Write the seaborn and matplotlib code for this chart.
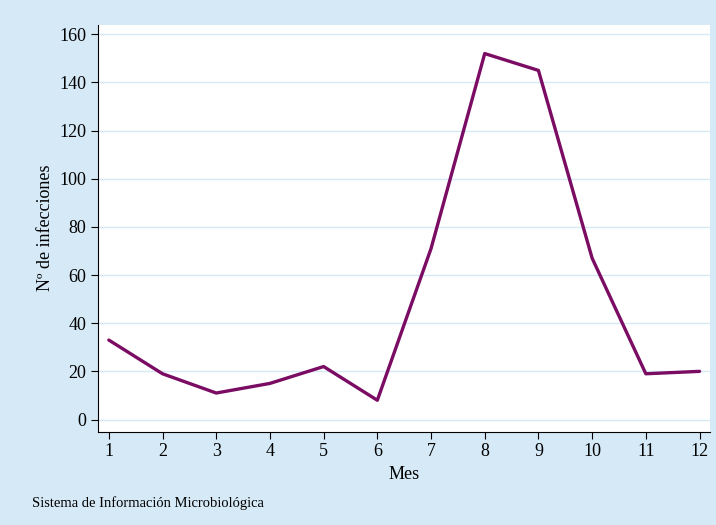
import matplotlib
matplotlib.use("Agg")
import matplotlib.pyplot as plt
import seaborn as sns
import pandas as pd

meses = [1, 2, 3, 4, 5, 6, 7, 8, 9, 10, 11, 12]
infecciones = [33, 19, 11, 15, 22, 8, 71, 152, 145, 67, 19, 20]

sns.set_style("white")
plt.rcParams['font.family'] = ['Liberation Serif', 'DejaVu Serif']
plt.rcParams['text.color'] = 'black'
plt.rcParams['axes.labelcolor'] = 'black'
plt.rcParams['xtick.color'] = 'black'
plt.rcParams['ytick.color'] = 'black'

df = pd.DataFrame({"Mes": meses, "Nº de infecciones": infecciones})

fig = plt.figure(figsize=(7.16, 5.25), dpi=100)
fig.patch.set_facecolor('#d5e9f6')
ax = fig.add_axes([0.137, 0.178, 0.855, 0.775])
ax.set_facecolor('white')

sns.lineplot(data=df, x="Mes", y="Nº de infecciones", color='#7b0c63', linewidth=2.4, ax=ax)

ax.set_xlim(0.8, 12.2)
ax.set_ylim(-5, 164)
ax.set_xticks(meses)
ax.set_yticks(range(0, 161, 20))
ax.grid(axis='y', color='#d5e9f6', linewidth=1)
for s in ['top', 'right']:
    ax.spines[s].set_visible(False)
for s in ['left', 'bottom']:
    ax.spines[s].set_color('black')
    ax.spines[s].set_linewidth(0.8)
ax.tick_params(axis='both', which='both', direction='out', length=5, width=0.8, labelsize=13, left=True, bottom=True)
ax.set_xlabel("Mes", fontsize=13)
ax.set_ylabel("Nº de infecciones", fontsize=13)

fig.text(0.045, 0.035, "Sistema de Información Microbiológica", fontsize=10.5)

fig.savefig("out.png", dpi=100, facecolor=fig.get_facecolor())
